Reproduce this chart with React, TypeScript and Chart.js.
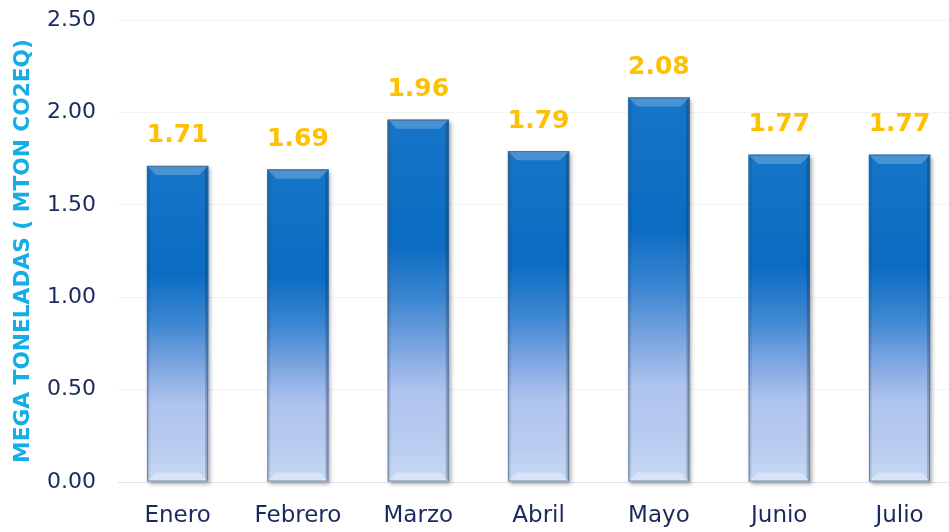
import React, { useEffect, useRef } from 'react';
import { Chart, registerables } from 'chart.js';

Chart.register(...registerables);

const categories = ['Enero', 'Febrero', 'Marzo', 'Abril', 'Mayo', 'Junio', 'Julio'];
const values = [1.71, 1.69, 1.96, 1.79, 2.08, 1.77, 1.77];
const yTickValues = [0, 0.5, 1, 1.5, 2, 2.5];
const yTitle = 'MEGA TONELADAS ( MTON CO2EQ)';

const bevelPlugin = {
  id: 'bevel',
  beforeDatasetsDraw(chart: any) {
    const ctx = chart.ctx;
    const meta = chart.getDatasetMeta(0);
    meta.data.forEach((el: any) => {
      const { x, y, base, width } = el.getProps(['x', 'y', 'base', 'width'], true);
      ctx.save();
      ctx.shadowColor = 'rgba(0,0,0,0.35)';
      ctx.shadowBlur = 4;
      ctx.shadowOffsetX = 2;
      ctx.shadowOffsetY = 2;
      ctx.fillStyle = 'rgba(120,130,150,1)';
      ctx.fillRect(x - width / 2, y, width, base - y);
      ctx.restore();
    });
  },
  afterDatasetsDraw(chart: any) {
    const ctx = chart.ctx;
    const meta = chart.getDatasetMeta(0);
    meta.data.forEach((el: any, i: number) => {
      const { x, y, base, width } = el.getProps(['x', 'y', 'base', 'width'], true);
      const l = x - width / 2;
      const r = x + width / 2;
      const b = 9;
      ctx.save();
      ctx.beginPath();
      ctx.moveTo(l, y);
      ctx.lineTo(r, y);
      ctx.lineTo(r - b, y + b);
      ctx.lineTo(l + b, y + b);
      ctx.closePath();
      ctx.fillStyle = 'rgba(255,255,255,0.22)';
      ctx.fill();
      ctx.beginPath();
      ctx.moveTo(l, base);
      ctx.lineTo(r, base);
      ctx.lineTo(r - b, base - b);
      ctx.lineTo(l + b, base - b);
      ctx.closePath();
      ctx.fillStyle = 'rgba(255,255,255,0.3)';
      ctx.fill();
      ctx.beginPath();
      ctx.moveTo(l, y);
      ctx.lineTo(l + 3, y + 3);
      ctx.lineTo(l + 3, base - 3);
      ctx.lineTo(l, base);
      ctx.closePath();
      ctx.fillStyle = 'rgba(0,0,0,0.08)';
      ctx.fill();
      ctx.beginPath();
      ctx.moveTo(r, y);
      ctx.lineTo(r - 3, y + 3);
      ctx.lineTo(r - 3, base - 3);
      ctx.lineTo(r, base);
      ctx.closePath();
      ctx.fillStyle = 'rgba(0,0,0,0.2)';
      ctx.fill();
      ctx.strokeStyle = 'rgba(70,100,140,0.7)';
      ctx.lineWidth = 1;
      ctx.strokeRect(l + 0.5, y + 0.5, width - 1, base - y - 1);
      ctx.fillStyle = '#FFC000';
      ctx.font = 'bold 25px "DejaVu Sans"';
      ctx.textAlign = 'center';
      ctx.textBaseline = 'middle';
      ctx.fillText(values[i].toFixed(2), x, y - 30);
      ctx.restore();
    });
  },
};

export default function App() {
  const ref = useRef<HTMLCanvasElement | null>(null);

  useEffect(() => {
    document.body.style.margin = '0';
    document.body.style.overflow = 'hidden';
    if (!ref.current) return;
    const chart = new Chart(ref.current, {
      type: 'bar',
      data: {
        datasets: [
          {
            data: values.map((v, i) => ({ x: i, y: v })),
            barThickness: 61,
            borderWidth: 0,
            backgroundColor: (c: any) => {
              const ch = c.chart;
              if (!ch.chartArea || !c.parsed) return '#0b6fc4';
              const ys = ch.scales.y;
              const top = ys.getPixelForValue(c.parsed.y);
              const bottom = ys.getPixelForValue(0);
              const g = ch.ctx.createLinearGradient(0, top, 0, bottom);
              g.addColorStop(0, '#1675c7');
              g.addColorStop(0.34, '#0a6cc2');
              g.addColorStop(0.5, '#3e87d2');
              g.addColorStop(0.62, '#78a3df');
              g.addColorStop(0.75, '#aec3ee');
              g.addColorStop(0.9, '#b9cdf1');
              g.addColorStop(1, '#c9d9f5');
              return g;
            },
          } as any,
        ],
      },
      options: {
        responsive: false,
        animation: false,
        layout: { padding: { top: 20, right: 0, bottom: 0, left: 0 } },
        plugins: {
          legend: { display: false },
          tooltip: { enabled: false },
        },
        scales: {
          x: {
            type: 'linear',
            offset: false,
            min: -0.4954,
            max: 6.411,
            afterBuildTicks: (axis: any) => {
              axis.ticks = categories.map((_, i) => ({ value: i }));
            },
            afterFit: (scale: any) => {
              scale.height = 50;
              scale.paddingLeft = 0;
              scale.paddingRight = 0;
            },
            grid: { display: false, drawTicks: false, offset: false },
            border: { display: false },
            ticks: {
              padding: 20,
              color: '#1b2a5e',
              font: { family: '"DejaVu Sans"', size: 23 },
              maxRotation: 0,
              autoSkip: false,
              callback: (v: any) => categories[v] ?? '',
            },
          },
          y: {
            min: 0,
            max: 2.5,
            afterBuildTicks: (axis: any) => {
              axis.ticks = yTickValues.map((v) => ({ value: v }));
            },
            afterFit: (scale: any) => {
              scale.width = 118;
              scale.paddingTop = 0;
              scale.paddingBottom = 0;
            },
            border: { display: false },
            grid: {
              drawTicks: false,
              color: (c: any) => (c.tick && c.tick.value === 0 ? '#e2e2e2' : '#f3f3f3'),
              lineWidth: 1,
            },
            ticks: {
              padding: 22,
              color: '#1b2a5e',
              font: { family: '"DejaVu Sans"', size: 22 },
              callback: (v: any) => Number(v).toFixed(2),
            },
            title: {
              display: true,
              text: yTitle,
              color: '#13aee8',
              font: { family: '"DejaVu Sans"', size: 21.7, weight: 'bold' },
              padding: { top: 10, bottom: 0 },
            },
          },
        },
      },
      plugins: [bevelPlugin],
    });
    return () => chart.destroy();
  }, []);

  return (
    <div style={{ position: 'absolute', left: 0, top: 0, width: 949, height: 532 }}>
      <canvas ref={ref} width={949} height={532} />
    </div>
  );
}
